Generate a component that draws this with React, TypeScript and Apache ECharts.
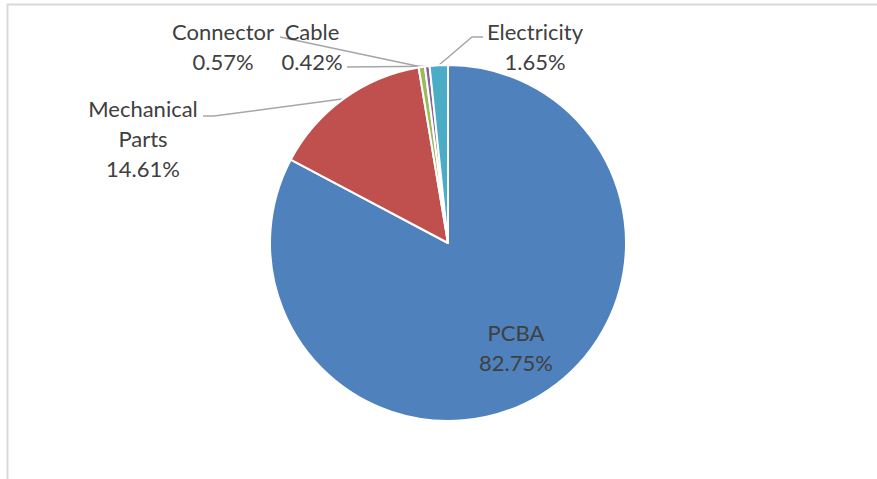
import React, { useEffect, useRef } from "react";
import * as echarts from "echarts";

const categories = ["PCBA", "Mechanical\nParts", "Connector", "Cable", "Electricity"];
const values = [82.75, 14.61, 0.57, 0.42, 1.65];
const colors = ["#4F81BD", "#C0504D", "#9BBB59", "#8064A2", "#4BACC6"];

// label centres (x, y) for each slice
const labelCenters: number[][] = [
  [516, 347],
  [143, 138],
  [223, 46],
  [312, 46],
  [535, 46],
];
// leader line bends (after the point on the slice edge)
const leaderBends: number[][][] = [
  [],
  [[214, 116], [203, 116]],
  [[280, 37]],
  [[347, 67]],
  [[472, 37], [483, 37]],
];

export default function App() {
  const ref = useRef<HTMLDivElement>(null);
  useEffect(() => {
    if (!ref.current) return;
    const chart = echarts.init(ref.current, undefined, { renderer: "svg" });
    const data = categories.map((name, i) => ({
      name,
      value: values[i],
      itemStyle: { color: colors[i] },
      label: i === 0 ? { position: "inside" } : { position: "outside" },
      labelLine: { show: i !== 0 },
    }));
    chart.setOption({
      animation: false,
      backgroundColor: "#ffffff",
      graphic: [
        {
          type: "rect",
          shape: { x: 7.5, y: 4.5, width: 1000, height: 600 },
          style: { fill: "none", stroke: "#D9D9D9", lineWidth: 2 },
          silent: true,
          z: -10,
        },
      ],
      series: [
        {
          type: "pie",
          center: [448, 243],
          radius: 178,
          startAngle: 90,
          clockwise: true,
          avoidLabelOverlap: false,
          data,
          itemStyle: { borderColor: "#ffffff", borderWidth: 2 },
          label: {
            formatter: (p: any) => `${p.name}\n${p.value.toFixed(2)}%`,
            fontFamily: "Lato",
            fontSize: 22,
            lineHeight: 30,
            color: "#404040",
            align: "center",
          },
          labelLine: {
            lineStyle: { color: "#A6A6A6", width: 1.5 },
            length: 10,
            length2: 10,
          },
          labelLayout: (params: any) => {
            const i = params.dataIndex;
            const c = labelCenters[i];
            const res: any = {
              x: c[0],
              y: c[1],
              align: "center",
              verticalAlign: "middle",
            };
            if (i !== 0 && params.labelLinePoints && params.labelLinePoints.length) {
              res.labelLinePoints = [params.labelLinePoints[0], ...leaderBends[i]];
            }
            return res;
          },
        },
      ],
    });
    return () => chart.dispose();
  }, []);
  return (
    <div
      ref={ref}
      style={{ position: "fixed", left: 0, top: 0, width: 877, height: 479 }}
    />
  );
}
